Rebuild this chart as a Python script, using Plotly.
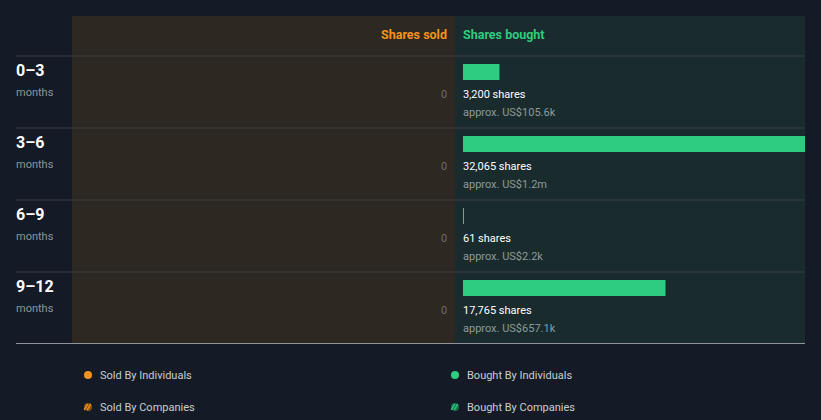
import plotly.graph_objects as go

# ---- data ----
periods = ["0–3", "3–6", "6–9", "9–12"]
period_unit = ["months", "months", "months", "months"]
shares_sold = [0, 0, 0, 0]
shares_bought = [3200, 32065, 61, 17765]
bought_value = ["US$105.6k", "US$1.2m", "US$2.2k", "US$657.1k"]
legend_labels = ["Sold By Individuals", "Bought By Individuals", "Sold By Companies", "Bought By Companies"]

W, H = 821, 420
BG = "#151b26"
SOLD_BG = "#2d2822"
BOUGHT_BG = "#1a2b2e"
ORANGE = "#f7931a"
GREEN = "#2ecc80"
GRID = "#3a3e43"
FONT = "Roboto"

def px(x):
    return x / W

def py(y):
    return 1 - y / H

idx = list(range(len(periods)))

fig = go.Figure()

# bought bars
fig.add_trace(go.Bar(
    x=shares_bought, y=idx, orientation="h",
    marker=dict(color=GREEN, line=dict(width=0)),
    width=16 / 72, xaxis="x", yaxis="y", hoverinfo="skip", showlegend=False,
))
# sold bars (all zero)
fig.add_trace(go.Bar(
    x=shares_sold, y=idx, orientation="h",
    marker=dict(color=ORANGE, line=dict(width=0)),
    width=16 / 72, xaxis="x2", yaxis="y", hoverinfo="skip", showlegend=False,
))

shapes = []
# panels
shapes.append(dict(type="rect", xref="paper", yref="paper", x0=px(72), x1=px(455), y0=py(343), y1=py(16),
                   fillcolor=SOLD_BG, line=dict(width=0), layer="below"))
shapes.append(dict(type="rect", xref="paper", yref="paper", x0=px(455), x1=px(805), y0=py(343), y1=py(16),
                   fillcolor=BOUGHT_BG, line=dict(width=0), layer="below"))
# row separators
for i in idx:
    yy = 56 + 72 * i
    shapes.append(dict(type="line", xref="paper", yref="paper", x0=px(16), x1=px(805), y0=py(yy), y1=py(yy),
                       line=dict(color=GRID, width=1), layer="below"))
shapes.append(dict(type="line", xref="paper", yref="paper", x0=px(16), x1=px(805), y0=py(343.5), y1=py(343.5),
                   line=dict(color="#8e9499", width=1), layer="above"))

annotations = []

def ann(**kw):
    kw.setdefault("showarrow", False)
    kw.setdefault("borderpad", 0)
    kw.setdefault("borderwidth", 0)
    annotations.append(kw)

# headers
ann(text="<b>Shares sold</b>", xref="paper", yref="paper", x=px(447), y=py(34),
    xanchor="right", yanchor="middle", font=dict(family=FONT, size=12.5, color=ORANGE))
ann(text="<b>Shares bought</b>", xref="paper", yref="paper", x=px(463), y=py(34),
    xanchor="left", yanchor="middle", font=dict(family=FONT, size=12.5, color=GREEN))

for i, (p, u, s, b, v) in enumerate(zip(periods, period_unit, shares_sold, shares_bought, bought_value)):
    ann(text=f"<b>{p}</b>", xref="paper", yref="y", x=px(16), y=i - 2 / 72,
        xanchor="left", yanchor="middle", font=dict(family=FONT, size=16, color="#ffffff"))
    ann(text=u, xref="paper", yref="y", x=px(16), y=i + 20 / 72,
        xanchor="left", yanchor="middle", font=dict(family=FONT, size=11, color="#8f9499"))
    ann(text=f"{s:,}", xref="paper", yref="y", x=px(447), y=i + 22 / 72,
        xanchor="right", yanchor="middle", font=dict(family=FONT, size=11, color="#6f6b66"))
    ann(text=f"{b:,} shares", xref="paper", yref="y", x=px(463), y=i + 22 / 72,
        xanchor="left", yanchor="middle", font=dict(family=FONT, size=11, color="#ffffff"))
    ann(text=f"approx. {v}", xref="paper", yref="y", x=px(463), y=i + 40 / 72,
        xanchor="left", yanchor="middle", font=dict(family=FONT, size=11, color="#8e9a9a"))

# legend
leg_pos = [(88, 375, ORANGE, "#8a5514", False), (455, 375, GREEN, "#17704a", False),
           (88, 407, ORANGE, "#8a5514", True), (455, 407, GREEN, "#17704a", True)]
for (lx, ly, col, dim, striped), lab in zip(leg_pos, legend_labels):
    shapes.append(dict(type="circle", xref="paper", yref="paper", x0=px(lx - 4), x1=px(lx + 4),
                       y0=py(ly + 4), y1=py(ly - 4), fillcolor=dim if striped else col, line=dict(width=0)))
    if striped:
        for off in (-2.0, 1.0):
            shapes.append(dict(type="line", xref="paper", yref="paper",
                               x0=px(lx - 1.8 + off), x1=px(lx + 1.8 + off), y0=py(ly + 2.8), y1=py(ly - 2.8),
                               line=dict(color=col, width=1.3)))
    ann(text=lab, xref="paper", yref="paper", x=px(lx + 12), y=py(ly),
        xanchor="left", yanchor="middle", font=dict(family=FONT, size=11, color="#c9cdd2"))

fig.update_layout(
    width=W, height=H,
    margin=dict(l=0, r=0, t=0, b=0),
    paper_bgcolor=BG, plot_bgcolor="rgba(0,0,0,0)",
    barmode="overlay",
    showlegend=False,
    xaxis=dict(domain=[px(463), px(805)], range=[0, 30000], visible=False, fixedrange=True),
    xaxis2=dict(domain=[px(72), px(447)], range=[30000, 0], visible=False, fixedrange=True, anchor="y"),
    yaxis=dict(domain=[0, 1], range=[(H - 72) / 72, -1], visible=False, fixedrange=True),
    shapes=shapes,
    annotations=annotations,
    font=dict(family=FONT),
)

fig.write_html("out.html", config={"displayModeBar": False})
